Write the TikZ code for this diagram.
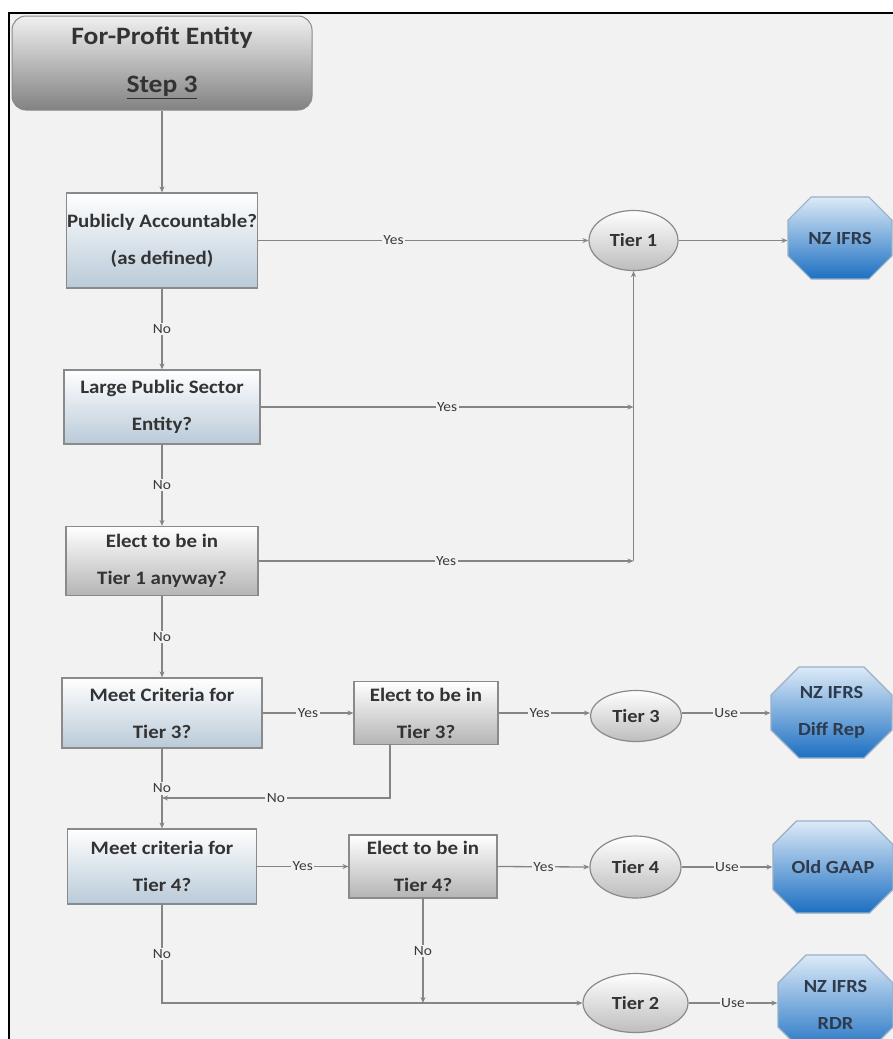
\documentclass[tikz,border=0pt]{standalone}
\usepackage{fontspec}
\setmainfont{Carlito}[FakeStretch=1.1]
\usetikzlibrary{shapes.geometric,shapes.misc,arrows.meta}
\definecolor{bgc}{HTML}{F2F2F2}
\definecolor{linec}{HTML}{858585}
\definecolor{txt}{HTML}{333333}
\definecolor{lbltxt}{HTML}{3A3A3A}
\definecolor{boxbd}{HTML}{8A8A8A}
\definecolor{bluebot}{HTML}{B9CAD8}
\definecolor{graybot}{HTML}{B4B4B4}
\definecolor{titletop}{HTML}{F0F0F0}
\definecolor{titlebot}{HTML}{828282}
\definecolor{ellbot}{HTML}{BDBDBD}
\definecolor{octtop}{HTML}{DCEAF7}
\definecolor{octbot}{HTML}{1C6FC2}
\definecolor{octbd}{HTML}{9AB0C6}
\definecolor{octtxt}{HTML}{2E3B4E}
\newcommand\fsz[2]{\fontsize{#1}{#2}\selectfont}
\tikzset{
  titlebox/.style={rectangle, rounded corners=14pt, draw=boxbd, line width=1pt,
    top color=titletop, bottom color=titlebot, text=txt, align=center,
    font=\fsz{25}{48}\bfseries, inner sep=0pt, minimum width=300pt, minimum height=94pt},
  qbox/.style={rectangle, draw=boxbd, line width=1.2pt, top color=white, text=txt,
    align=center, font=\fsz{19}{37}\bfseries, inner sep=0pt},
  bluebox/.style={qbox, bottom color=bluebot},
  graybox/.style={qbox, bottom color=graybot},
  tier/.style={ellipse, draw=boxbd, line width=1.2pt, top color=white, bottom color=ellbot,
    text=txt, font=\fsz{18.5}{22}\bfseries, inner sep=0pt},
  octa/.style={chamfered rectangle, chamfered rectangle xsep=11pt, chamfered rectangle ysep=17pt,
    draw=octbd, line width=1.2pt, top color=octtop, bottom color=octbot, text=octtxt,
    align=center, font=\fsz{18.5}{37}\bfseries, inner sep=0pt},
  conn/.style={draw=linec, line width=1.3pt, -{Stealth[length=6pt,width=5pt]}},
  lbl/.style={fill=bgc, inner sep=1.5pt, text=lbltxt, font=\fsz{14}{16}},
  wh/.style 2 args={minimum width=#1pt, minimum height=#2pt}
}
\begin{document}
\begin{tikzpicture}[x=1pt,y=-1pt]
\clip (0,0) rectangle (893,1039);
\fill[white] (0,0) rectangle (893,1039);
\fill[bgc] (9,13) rectangle (893,1039);
\draw[black, line width=2pt] (8.5,1039) -- (8.5,12.5) -- (893,12.5);

\node[titlebox] (title) at (162,63) {For-Profit Entity\\\underline{Step 3}};

\node[bluebox, wh={191}{95}] (b1) at (162,240.5) {Publicly Accountable?\\(as defined)};
\node[bluebox, wh={196}{74}] (b2) at (162,407) {Large Public Sector\\Entity?};
\node[graybox, wh={192}{69}] (b3) at (162,561) {Elect to be in\\Tier 1 anyway?};
\node[bluebox, wh={200}{70}] (b4) at (162,713) {Meet Criteria for\\Tier 3?};
\node[graybox, wh={144}{63}] (b5) at (426,713) {Elect to be in\\Tier 3?};
\node[bluebox, wh={189}{75}] (b6) at (162,866.5) {Meet criteria for\\Tier 4?};
\node[graybox, wh={148}{63}] (b7) at (423,866.5) {Elect to be in\\Tier 4?};

\node[tier, wh={89}{60}] (t1) at (633.5,240.5) {Tier 1};
\node[tier, wh={91}{51}] (t3) at (636,716) {Tier 3};
\node[tier, wh={91}{62}] (t4) at (635.5,867) {Tier 4};
\node[tier, wh={105}{59}] (t2) at (635.5,1003) {Tier 2};

\node[octa, wh={104}{82}] (o1) at (840,238) {NZ IFRS};
\node[octa, wh={121}{91}] (o2) at (831.5,712.5) {NZ IFRS\\Diff Rep};
\node[octa, wh={120}{92}] (o3) at (833,867) {Old GAAP};
\node[octa, wh={115}{100}] (o4) at (835.5,1005) {NZ IFRS\\RDR};

\coordinate (b5o) at (390,744);
\coordinate (j3) at (390,798);

\draw[conn] (title.south) -- (b1.north);
\draw[conn] (b1.east) -- node[lbl, pos=.41] {Yes} (t1.west);
\draw[conn] (t1.east) -- (t1.east -| o1.west);
\draw[conn] (b1.south) -- node[lbl] {No} (b2.north);
\draw[conn] (b2.east) -- node[lbl] {Yes} (b2.east -| t1.south);
\draw[conn] (b2.south) -- node[lbl] {No} (b3.north);
\draw[conn] (b3.east) -- node[lbl] {Yes} (b3.east -| t1.south);
\draw[conn] (b3.east -| t1.south) -- (t1.south);
\draw[conn] (b3.south) -- node[lbl] {No} (b4.north);

\draw[conn] (b4.east) -- node[lbl] {Yes} (b5.west);
\draw[conn] (b5.east) -- node[lbl, pos=.45] {Yes} (b5.east -| t3.west);
\draw[conn] (t3.east |- b5.east) -- node[lbl] {Use} (b5.east -| o2.west);
\draw[conn] (b4.south) -- node[lbl] {No} (b6.north);
\draw[conn] (b5o) -- (j3) -- node[lbl] {No} (j3 -| b4.south);

\draw[conn] (b6.east) -- node[lbl] {Yes} (b7.west);
\draw[conn] (b7.east) -- node[lbl] {Yes} (t4.west);
\draw[conn] (t4.east) -- node[lbl] {Use} (t4.east -| o3.west);
\draw[conn] (b6.south) -- node[lbl] {No} (b6.south |- t2.west) -- (t2.west);
\draw[conn] (b7.south) -- node[lbl] {No} (b7.south |- t2.west);
\draw[conn] (t2.east) -- node[lbl] {Use} (t2.east -| o4.west);
\end{tikzpicture}
\end{document}
